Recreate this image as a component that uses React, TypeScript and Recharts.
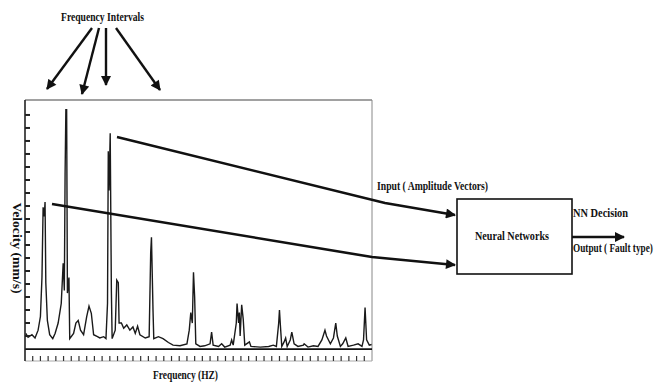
import React from "react";
import { LineChart, Line, XAxis, YAxis, ReferenceLine } from "recharts";

// spectrum trace (frequency in Hz, velocity in mm/s)
const freqHz = [
  1, 4, 9, 13, 17, 20, 22, 23.5, 25, 26, 27, 29, 32, 36, 39, 43, 47, 49.5, 51, 52, 53, 54, 55, 57, 58,
  63, 66, 69, 72, 76, 80, 83, 86, 89, 94, 97, 102, 105, 107, 108, 109, 110.5, 112, 113, 117, 119, 121,
  122, 125, 128, 132, 136, 140, 143, 146, 149, 156, 161, 163, 164, 166, 167, 173, 179, 186, 192, 201,
  210, 213, 215, 217, 218.5, 220, 221.5, 227, 233, 240, 242, 244, 251, 255, 259, 266, 268, 270, 274,
  275, 277, 278, 279, 281, 283, 285, 291, 293, 305, 316, 322, 326, 329, 330, 331, 333, 336, 338, 340,
  344, 346, 349, 354, 361, 362, 367, 374, 380, 385, 389, 391, 396, 400, 403, 405, 409, 412, 416, 419,
  426, 432, 437, 439, 441, 443, 446.5, 449.5,
];
const velocity = [
  1.2, 0.9, 1.1, 0.85, 1.45, 2.5, 5.5, 10.9, 10.2, 11.3, 5.1, 2.2, 1.1, 0.8, 1.2, 2.0, 3.5, 6.6, 4.5, 13.5,
  18.4, 18.4, 4.3, 5.5, 0.8, 1.2, 2.0, 2.2, 1.45, 1.1, 2.5, 3.3, 2.75, 1.1, 0.95, 0.85, 0.95, 0.8, 3.5,
  15.2, 12.2, 16.6, 4.5, 0.8, 1.45, 5.3, 5.1, 2.0, 2.0, 1.6, 1.85, 1.45, 1.7, 1.2, 1.75, 1.1, 0.85,
  0.95, 7.4, 8.6, 3.0, 0.8, 0.95, 0.8, 0.5, 0.3, 0.25, 0.4, 1.45, 2.8, 2.0, 5.9, 4.0, 0.4, 0.2, 0.25,
  0.4, 1.3, 0.3, 0.2, 0.4, 0.15, 0.3, 0.7, 0.3, 2.0, 3.5, 2.0, 2.8, 1.0, 3.4, 2.3, 0.3, 0.55, 0.2,
  0.15, 0.2, 0.3, 0.2, 2.0, 3.0, 2.0, 0.2, 0.55, 0.85, 0.2, 0.7, 1.3, 0.4, 0.2, 0.3, 0.4, 0.15, 0.25,
  0.2, 0.7, 1.45, 1.0, 0.4, 0.85, 2.0, 1.0, 0.2, 0.4, 0.85, 0.2, 0.3, 0.4, 0.2, 0.7, 3.2, 0.7, 0.3,
  0.35,
];
const xTicks = [10, 20, 30, 40, 50, 60, 70, 80, 90, 100, 110, 120, 130, 140, 150, 160, 170, 180, 190, 200,
  210, 220, 230, 240, 250, 260, 270, 280, 290, 300, 310, 320, 330, 340, 350, 360, 370, 380, 390, 400,
  410, 420, 430, 440];
const yTicks = [1, 2, 3, 4, 5, 6, 7, 8, 9, 10, 11, 12, 13, 14, 15, 16, 17, 18];

const data = freqHz.map((f, i) => ({ f, v: velocity[i] }));

const serif = "'Liberation Serif', 'Times New Roman', serif";
const blank = () => "";

const App = () => {
  return (
    <div style={{ position: "absolute", left: 0, top: 0, width: 655, height: 383, background: "#fff" }}>
      <LineChart width={655} height={383} data={data} margin={{ top: 100, right: 283, bottom: 22, left: 25 }}>
        <XAxis
          dataKey="f"
          type="number"
          domain={[0, 450]}
          ticks={xTicks}
          height={10}
          mirror
          tickSize={5}
          tickFormatter={blank}
          axisLine={{ stroke: "#aaa", strokeWidth: 1 }}
          tickLine={{ stroke: "#333", strokeWidth: 1.2 }}
        />
        <YAxis
          type="number"
          domain={[-0.92, 19.15]}
          ticks={yTicks}
          width={25}
          mirror
          tickSize={5}
          tickFormatter={blank}
          axisLine={{ stroke: "#222", strokeWidth: 1.6 }}
          tickLine={{ stroke: "#222", strokeWidth: 2 }}
        />
        <ReferenceLine y={19.15} stroke="#444" strokeWidth={1.2} />
        <ReferenceLine x={450} stroke="#888" strokeWidth={1} />
        <ReferenceLine y={0} stroke="#111" strokeWidth={1.8} />
        <Line
          type="linear"
          dataKey="v"
          stroke="#1a1a1a"
          strokeWidth={1.4}
          dot={false}
          isAnimationActive={false}
        />
      </LineChart>

      {/* block diagram around the spectrum */}
      <svg
        width={655}
        height={383}
        style={{ position: "absolute", left: 0, top: 0, pointerEvents: "none" }}
        fontFamily={serif}
        fontWeight="bold"
        fontSize={12.5}
        fill="#111"
      >
        <defs>
          <marker id="head" viewBox="0 0 10 10" refX="9" refY="5" markerWidth="11" markerHeight="10"
            markerUnits="userSpaceOnUse" orient="auto">
            <path d="M0,0 L10,5 L0,10 z" fill="#111" />
          </marker>
        </defs>

        <text x={61} y={21} textLength={83} lengthAdjust="spacingAndGlyphs">Frequency Intervals</text>
        <g stroke="#111" strokeWidth={2.4} fill="none">
          <line x1={92} y1={28} x2={47} y2={89} markerEnd="url(#head)" />
          <line x1={99} y1={28} x2={82} y2={94} markerEnd="url(#head)" />
          <line x1={106} y1={28} x2={106} y2={85} markerEnd="url(#head)" />
          <line x1={116} y1={28} x2={160} y2={90} markerEnd="url(#head)" />
        </g>

        <g stroke="#111" strokeWidth={2.6} fill="none">
          <polyline points="117,137 385,203 455,215" markerEnd="url(#head)" />
          <polyline points="52,204 372,257 455,265" markerEnd="url(#head)" />
          <line x1={572} y1={237} x2={624} y2={237} markerEnd="url(#head)" />
        </g>

        <rect x={457} y={199} width={115} height={75} fill="none" stroke="#111" strokeWidth={1.6} />
        <text x={475} y={240} textLength={74} lengthAdjust="spacingAndGlyphs">Neural  Networks</text>
        <text x={377} y={190} textLength={111} lengthAdjust="spacingAndGlyphs">Input ( Amplitude Vectors)</text>
        <text x={573} y={217} textLength={55} lengthAdjust="spacingAndGlyphs">NN Decision</text>
        <text transform="translate(573 252) scale(0.74 1)" x={0} y={0}>Output ( Fault type)</text>
        <text x={153} y={379} textLength={65} lengthAdjust="spacingAndGlyphs">Frequency (HZ)</text>
        <text
          x={13}
          y={248}
          textAnchor="middle"
          transform="rotate(90 13 248)"
          textLength={91}
          lengthAdjust="spacingAndGlyphs"
        >
          Velocity (mm/s)
        </text>
      </svg>
    </div>
  );
};

export default App;
